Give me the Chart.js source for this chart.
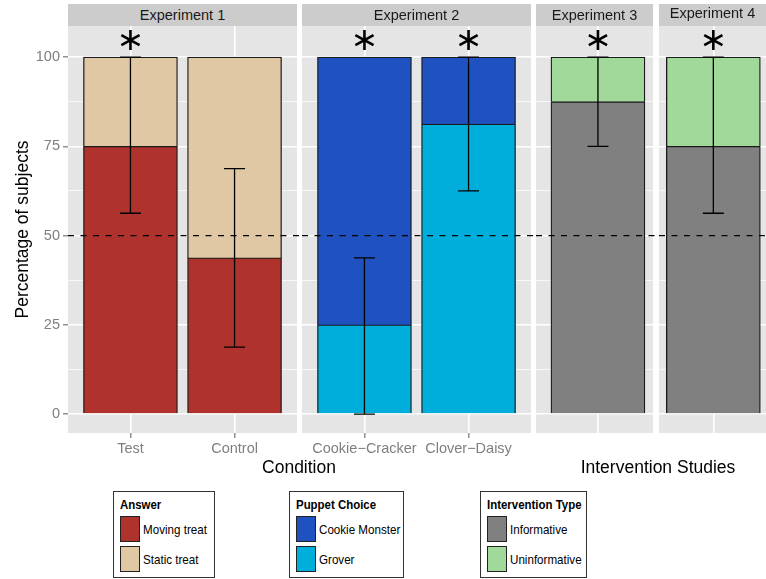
<!DOCTYPE html>
<html>
<head>
<meta charset="utf-8">
<script src="https://cdn.jsdelivr.net/npm/chart.js@4/dist/chart.umd.min.js"></script>
<style>
  body { margin: 0; background: #fff; font-family: 'Liberation Sans', Arial, Helvetica, sans-serif; }
  #wrap { position: relative; width: 766px; height: 579px; overflow: hidden; }
  .pane { position: absolute; top: 0; }
  .strip { position: absolute; top: 4px; height: 22px; background: #cccccc; color: #1a1a1a;
           font-size: 14.5px; line-height: 22px; text-align: center; white-space: nowrap; }
  .axis-title { position: absolute; font-size: 17.5px; color: #000; white-space: nowrap; transform: translateX(-50%); }
  .legend { position: absolute; top: 491px; height: 85px; border: 1.5px solid #333; background: #fff; font-size: 13.5px; }
  .legend .ttl { position: absolute; left: 6px; top: 5px; font-weight: bold; font-size: 13px; white-space: nowrap;
                 transform: scaleX(0.88); transform-origin: left center; }
  .legend .key { position: absolute; left: 6px; width: 20px; height: 26px; border: 1.5px solid #222; box-sizing: border-box; }
  .legend .lab { position: absolute; left: 29px; white-space: nowrap; transform: scaleX(0.86); transform-origin: left center; }
</style>
</head>
<body>
<div id="wrap">
  <canvas id="c1" class="pane" width="302" height="460" style="left:0px"></canvas>
  <canvas id="c2" class="pane" width="234" height="460" style="left:302px"></canvas>
  <canvas id="c3" class="pane" width="123" height="460" style="left:536px"></canvas>
  <canvas id="c4" class="pane" width="107" height="460" style="left:659px"></canvas>
  <div id="strips"></div>
  <div class="axis-title" style="left:299px; top:457px;">Condition</div>
  <div class="axis-title" style="left:658px; top:457px;">Intervention Studies</div>
  <div id="legends"></div>
</div>
<script>
// Values (percent of subjects)
const yMajorTicks = [0, 25, 50, 75, 100];
const yMinorTicks = [12.5, 37.5, 62.5, 87.5];
const chanceLevel = 50;

const exp1Labels = ['Test', 'Control'];
const exp1Moving = [75, 43.75];
const exp1Static = [25, 56.25];
const exp1ErrLow = [56.25, 18.75];
const exp1ErrHigh = [100, 68.75];
const exp1Stars = [true, false];

const exp2Labels = ['Cookie\u2212Cracker', 'Clover\u2212Daisy'];
const exp2Grover = [25, 81.25];
const exp2Cookie = [75, 18.75];
const exp2ErrLow = [0, 62.5];
const exp2ErrHigh = [43.75, 100];
const exp2Stars = [true, true];

const exp3Informative = [87.5];
const exp3Uninformative = [12.5];
const exp3ErrLow = [75];
const exp3ErrHigh = [100];
const exp3Stars = [true];

const exp4Informative = [75];
const exp4Uninformative = [25];
const exp4ErrLow = [56.25];
const exp4ErrHigh = [100];
const exp4Stars = [true];

const colors = {
    moving: '#af322d',
    static: '#e0c8a4',
    cookie: '#1f51c0',
    grover: '#00aedc',
    informative: '#808080',
    uninformative: '#a1d99b'
};

Chart.defaults.font.family = "'Liberation Sans', Arial, Helvetica, sans-serif";
Chart.defaults.animation = false;

// Panel background, chance line, error bars and significance stars
const panelPlugin = {
    id: 'panel',
    beforeDraw(chart) {
        const a = chart.chartArea;
        const ctx = chart.ctx;
        ctx.save();
        ctx.fillStyle = '#e5e5e5';
        ctx.fillRect(a.left, a.top, a.right - a.left, a.bottom - a.top);
        ctx.restore();
    },
    afterDatasetsDraw(chart, args, opts) {
        const ctx = chart.ctx;
        const x = chart.scales.x, y = chart.scales.y;
        ctx.save();
        // dashed chance line runs across the panel and the gap to its right
        const yc = y.getPixelForValue(chanceLevel);
        ctx.strokeStyle = '#000';
        ctx.lineWidth = 1.2;
        ctx.setLineDash([6, 6.5]);
        ctx.beginPath();
        ctx.moveTo(chart.chartArea.left, yc);
        ctx.lineTo(chart.width, yc);
        ctx.stroke();
        ctx.setLineDash([]);

        // error bars
        ctx.lineWidth = 1.3;
        opts.low.forEach((lo, i) => {
            const px = x.getPixelForValue(i + 1);
            const p1 = y.getPixelForValue(lo);
            const p2 = y.getPixelForValue(opts.high[i]);
            ctx.beginPath();
            ctx.moveTo(px, p1); ctx.lineTo(px, p2);
            ctx.moveTo(px - 10.5, p1); ctx.lineTo(px + 10.5, p1);
            ctx.moveTo(px - 10.5, p2); ctx.lineTo(px + 10.5, p2);
            ctx.stroke();
        });

        // six-armed asterisks above significant bars
        ctx.lineWidth = 2.6;
        ctx.lineCap = 'butt';
        opts.stars.forEach((s, i) => {
            if (!s) return;
            const cx = x.getPixelForValue(i + 1);
            const cy = y.getPixelForValue(100) - 17;
            ctx.beginPath();
            [90, 30, 150].forEach(deg => {
                const r = deg * Math.PI / 180;
                const dx = Math.cos(r) * 10.5, dy = Math.sin(r) * 10;
                ctx.moveTo(cx - dx, cy - dy);
                ctx.lineTo(cx + dx, cy + dy);
            });
            ctx.stroke();
        });
        ctx.restore();
    }
};

function makePanel(id, cfg) {
    const allTicks = yMajorTicks.concat(yMinorTicks);
    const isMajor = v => yMajorTicks.includes(v);
    const toPts = arr => arr.map((v, i) => ({ x: i + 1, y: v }));
    return new Chart(document.getElementById(id), {
        type: 'bar',
        data: {
            datasets: [
                { label: cfg.bottomLabel, data: toPts(cfg.bottom), backgroundColor: cfg.bottomColor,
                  borderColor: '#1a1a1a', borderWidth: 1.3, barThickness: 94 },
                { label: cfg.topLabel, data: toPts(cfg.top), backgroundColor: cfg.topColor,
                  borderColor: '#1a1a1a', borderWidth: 1.3, barThickness: 94 }
            ]
        },
        options: {
            responsive: false,
            layout: { padding: { top: 26, right: cfg.padRight, left: 0, bottom: 0 } },
            plugins: {
                legend: { display: false },
                tooltip: { enabled: false },
                panel: { low: cfg.errLow, high: cfg.errHigh, stars: cfg.stars }
            },
            scales: {
                x: {
                    type: 'linear',
                    stacked: true,
                    offset: false,
                    min: cfg.xMin,
                    max: cfg.xMax,
                    afterBuildTicks: s => { s.ticks = cfg.bottom.map((v, i) => ({ value: i + 1 })); },
                    afterFit: s => { s.height = 27; },
                    border: { display: false },
                    grid: {
                        offset: false,
                        color: '#ffffff',
                        lineWidth: 1.6,
                        drawTicks: !!cfg.labels,
                        tickLength: 5,
                        tickColor: '#7f7f7f',
                        tickWidth: 1.3
                    },
                    ticks: {
                        display: !!cfg.labels,
                        autoSkip: false,
                        maxRotation: 0,
                        padding: 2,
                        color: '#7f7f7f',
                        font: { size: 14.5 },
                        callback: v => cfg.labels ? cfg.labels[v - 1] : ''
                    }
                },
                y: {
                    stacked: true,
                    min: -5.3,
                    max: 108.7,
                    afterBuildTicks: s => { s.ticks = allTicks.map(v => ({ value: v })); },
                    afterFit: s => { s.width = cfg.showY ? 68 : 0; },
                    border: { display: false },
                    grid: {
                        color: '#ffffff',
                        lineWidth: c => isMajor(c.tick.value) ? 1.6 : 0.7,
                        drawTicks: cfg.showY,
                        tickLength: 5,
                        tickWidth: 1.3,
                        tickColor: c => isMajor(c.tick.value) ? '#7f7f7f' : 'rgba(0,0,0,0)'
                    },
                    ticks: {
                        display: cfg.showY,
                        autoSkip: false,
                        padding: 3,
                        color: '#7f7f7f',
                        font: { size: 14.5 },
                        callback: v => isMajor(v) ? String(v) : ''
                    },
                    title: {
                        display: cfg.showY,
                        text: 'Percentage of subjects',
                        color: '#000',
                        font: { size: 17.5 },
                        padding: { top: 13, bottom: 0 }
                    }
                }
            }
        },
        plugins: [panelPlugin]
    });
}

makePanel('c1', {
    labels: exp1Labels, bottom: exp1Moving, top: exp1Static,
    bottomColor: colors.moving, topColor: colors.static,
    bottomLabel: 'Moving treat', topLabel: 'Static treat',
    errLow: exp1ErrLow, errHigh: exp1ErrHigh, stars: exp1Stars,
    xMin: 0.4, xMax: 2.6, padRight: 5, showY: true
});
makePanel('c2', {
    labels: exp2Labels, bottom: exp2Grover, top: exp2Cookie,
    bottomColor: colors.grover, topColor: colors.cookie,
    bottomLabel: 'Grover', topLabel: 'Cookie Monster',
    errLow: exp2ErrLow, errHigh: exp2ErrHigh, stars: exp2Stars,
    xMin: 0.4, xMax: 2.6, padRight: 5, showY: false
});
makePanel('c3', {
    labels: null, bottom: exp3Informative, top: exp3Uninformative,
    bottomColor: colors.informative, topColor: colors.uninformative,
    bottomLabel: 'Informative', topLabel: 'Uninformative',
    errLow: exp3ErrLow, errHigh: exp3ErrHigh, stars: exp3Stars,
    xMin: 0.407, xMax: 1.527, padRight: 6, showY: false
});
makePanel('c4', {
    labels: null, bottom: exp4Informative, top: exp4Uninformative,
    bottomColor: colors.informative, topColor: colors.uninformative,
    bottomLabel: 'Informative', topLabel: 'Uninformative',
    errLow: exp4ErrLow, errHigh: exp4ErrHigh, stars: exp4Stars,
    xMin: 0.48, xMax: 1.504, padRight: 0, showY: false
});

// Facet strips
const strips = [
    { text: 'Experiment 1', left: 68, width: 229, line: 22 },
    { text: 'Experiment 2', left: 302, width: 229, line: 22 },
    { text: 'Experiment 3', left: 536, width: 117, line: 22 },
    { text: 'Experiment 4', left: 659, width: 107, line: 19 }
];
document.getElementById('strips').innerHTML = strips.map(s =>
    `<div class="strip" style="left:${s.left}px;width:${s.width}px;line-height:${s.line}px">${s.text}</div>`).join('');

// Legends
const legends = [
    { title: 'Answer', left: 113, width: 100, items: [['Moving treat', colors.moving], ['Static treat', colors.static]] },
    { title: 'Puppet Choice', left: 289, width: 113, items: [['Cookie Monster', colors.cookie], ['Grover', colors.grover]] },
    { title: 'Intervention Type', left: 480, width: 105, items: [['Informative', colors.informative], ['Uninformative', colors.uninformative]] }
];
document.getElementById('legends').innerHTML = legends.map(l =>
    `<div class="legend" style="left:${l.left}px;width:${l.width}px">
       <div class="ttl">${l.title}</div>
       ${l.items.map((it, i) => `
         <div class="key" style="top:${24 + i * 30}px;background:${it[1]}"></div>
         <div class="lab" style="top:${30 + i * 30}px">${it[0]}</div>`).join('')}
     </div>`).join('');
</script>
</body>
</html>
